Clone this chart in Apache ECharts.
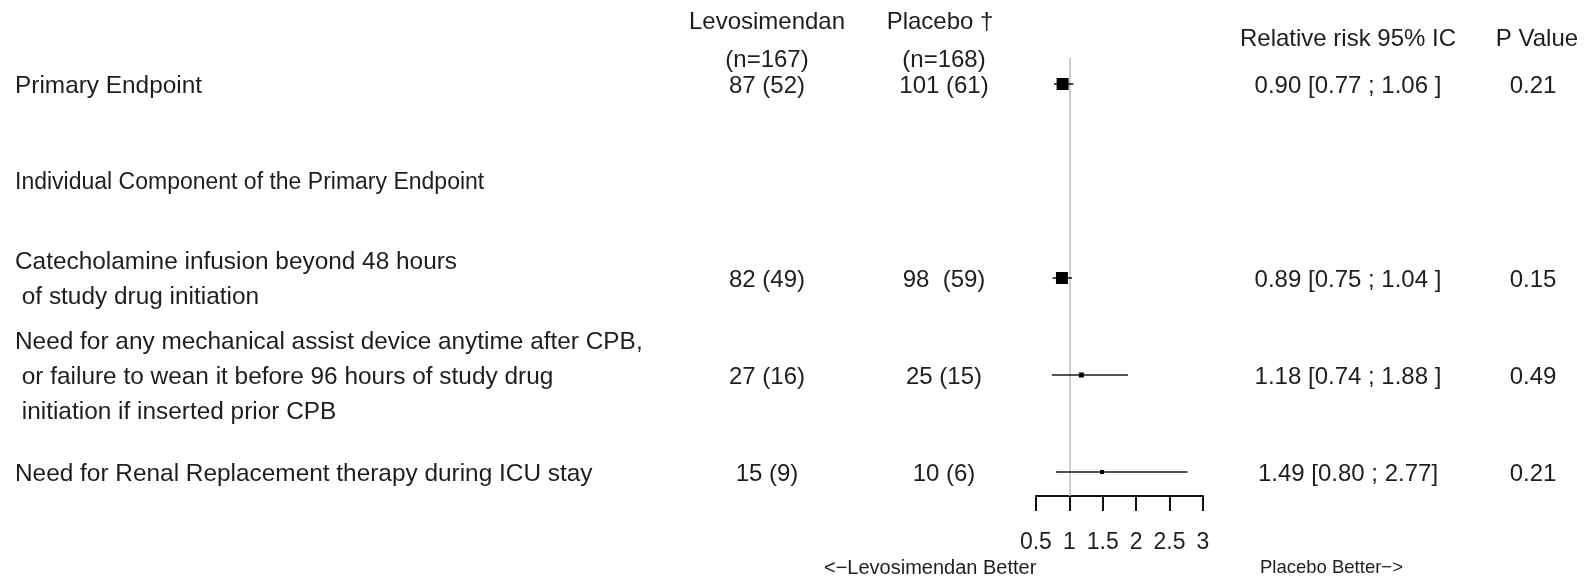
<!DOCTYPE html>
<html>
<head>
<meta charset="utf-8">
<script src="https://cdn.jsdelivr.net/npm/echarts@6/dist/echarts.min.js"></script>
<style>
  html, body { margin: 0; padding: 0; background: #ffffff; }
  #chart { width: 1589px; height: 581px; }
</style>
</head>
<body>
<div id="chart"></div>
<script>
// ---------------- DATA ----------------
const rowLabels = [
  'Primary Endpoint',
  'Individual Component of the Primary Endpoint',
  'Catecholamine infusion beyond 48 hours\n of study drug initiation',
  'Need for any mechanical assist device anytime after CPB,\n or failure to wean it before 96 hours of study drug\n initiation if inserted prior CPB',
  'Need for Renal Replacement therapy during ICU stay'
];
const levosimendanEvents = ['87 (52)', '', '82 (49)', '27 (16)', '15 (9)'];
const placeboEvents      = ['101 (61)', '', '98  (59)', '25 (15)', '10 (6)'];
const relativeRisk = [0.90, null, 0.89, 1.18, 1.49];
const ciLower      = [0.77, null, 0.75, 0.74, 0.80];
const ciUpper      = [1.06, null, 1.04, 1.88, 2.77];
const rrLabels = ['0.90 [0.77 ; 1.06 ]', '', '0.89 [0.75 ; 1.04 ]', '1.18 [0.74 ; 1.88 ]', '1.49 [0.80 ; 2.77]'];
const pValues  = ['0.21', '', '0.15', '0.49', '0.21'];
const boxWeights = [12, null, 12, 5, 4];
const xTicks = [0.5, 1, 1.5, 2, 2.5, 3];
const headerLev = ['Levosimendan', '(n=167)'];
const headerPla = ['Placebo \u2020', '(n=168)'];
const headerRR = 'Relative risk 95% IC';
const headerP = 'P Value';
const betterLeft = '<\u2212Levosimendan Better';
const betterRight = 'Placebo Better\u2212>';

// ---------------- LAYOUT ----------------
const W = 1589, H = 581;
const ROW0 = 84, PITCH = 97;            // pixel of row 0 and row pitch
const toRow = px => (px - ROW0) / PITCH;
const FONT = '"Liberation Sans", Arial, Helvetica, sans-serif';
const TXT = '#1e1e1e';
const TEXT_DY = 2;
const COL = { label: 15, lev: 767, pla: 944, rr: 1348, p: 1533 };
const labelSizes = [24.4, 23, 24.4, 24.4, 24.4];
const forestLeft = 1035.9, forestRight = 1202.9, forestTop = 58, forestAxisY = 496;

// build text items
const textItems = [];
function addText(x, row, text, align, size) {
  textItems.push({ value: [x, row], text: text, align: align, size: size || 24 });
}
addText(COL.lev, toRow(20), headerLev[0], 'center');
addText(COL.lev, toRow(58), headerLev[1], 'center');
addText(940, toRow(20), headerPla[0], 'center');
addText(COL.pla, toRow(58), headerPla[1], 'center');
addText(COL.rr, toRow(37), headerRR, 'center');
addText(1537, toRow(37), headerP, 'center');
rowLabels.forEach((t, i) => {
  addText(COL.label, i, t, 'left', labelSizes[i]);
  if (levosimendanEvents[i]) addText(COL.lev, i, levosimendanEvents[i], 'center');
  if (placeboEvents[i]) addText(COL.pla, i, placeboEvents[i], 'center');
  if (rrLabels[i]) addText(COL.rr, i, rrLabels[i], 'center');
  if (pValues[i]) addText(COL.p, i, pValues[i], 'center');
});
addText(824, toRow(566), betterLeft, 'left', 20);
addText(1260, toRow(566), betterRight, 'left', 18.5);

// forest data
const forestData = [];
relativeRisk.forEach((v, i) => {
  if (v != null) forestData.push([v, i, ciLower[i], ciUpper[i], boxWeights[i]]);
});

const chart = echarts.init(document.getElementById('chart'), null, { renderer: 'canvas' });
chart.setOption({
  backgroundColor: '#ffffff',
  animation: false,
  grid: [
    { left: forestLeft, right: W - forestRight, top: forestTop, bottom: H - forestAxisY, containLabel: false },
    { left: 0, right: 0, top: 0, bottom: 0, containLabel: false }
  ],
  xAxis: [
    {
      gridIndex: 0, type: 'value', position: 'bottom',
      min: xTicks[0], max: xTicks[xTicks.length - 1], interval: 0.5,
      axisLine: { show: true, onZero: false, lineStyle: { color: '#111', width: 2 } },
      axisTick: { show: true, inside: false, length: 15, lineStyle: { color: '#111', width: 2 } },
      axisLabel: { show: true, margin: 35, fontSize: 23, color: TXT, fontFamily: FONT,
                   formatter: v => String(v) },
      splitLine: { show: false }
    },
    { gridIndex: 1, type: 'value', min: 0, max: W, show: false }
  ],
  yAxis: [
    { gridIndex: 0, type: 'value', inverse: true, min: toRow(forestTop), max: toRow(forestAxisY), show: false },
    { gridIndex: 1, type: 'value', inverse: true, min: toRow(0), max: toRow(H), show: false }
  ],
  series: [
    {
      type: 'line', xAxisIndex: 0, yAxisIndex: 0, data: [], silent: true, z: 1,
      markLine: {
        silent: true, symbol: 'none', z: 1,
        label: { show: false },
        lineStyle: { color: '#bdbdbd', width: 1.5, type: 'solid' },
        data: [{ xAxis: 1 }]
      }
    },
    {
      type: 'custom', xAxisIndex: 0, yAxisIndex: 0, z: 10, clip: false,
      data: forestData,
      renderItem: function (params, api) {
        const c = api.coord([api.value(0), api.value(1)]);
        const lo = api.coord([api.value(2), api.value(1)]);
        const hi = api.coord([api.value(3), api.value(1)]);
        const s = api.value(4);
        return {
          type: 'group',
          children: [
            { type: 'line', shape: { x1: lo[0], y1: lo[1], x2: hi[0], y2: hi[1] },
              style: { stroke: '#1a1a1a', lineWidth: 1.6 } },
            { type: 'rect', shape: { x: c[0] - s / 2, y: c[1] - s / 2, width: s, height: s },
              style: { fill: '#000' } }
          ]
        };
      }
    },
    {
      type: 'custom', xAxisIndex: 1, yAxisIndex: 1, z: 20, clip: false,
      data: textItems.map(t => t.value),
      renderItem: function (params, api) {
        const p = api.coord([api.value(0), api.value(1)]);
        const it = textItems[params.dataIndex];
        return {
          type: 'text', x: p[0], y: p[1] + TEXT_DY,
          style: {
            text: it.text, fill: TXT,
            font: it.size + 'px ' + FONT,
            align: it.align, verticalAlign: 'middle', lineHeight: 35
          }
        };
      }
    }
  ]
});
</script>
</body>
</html>
